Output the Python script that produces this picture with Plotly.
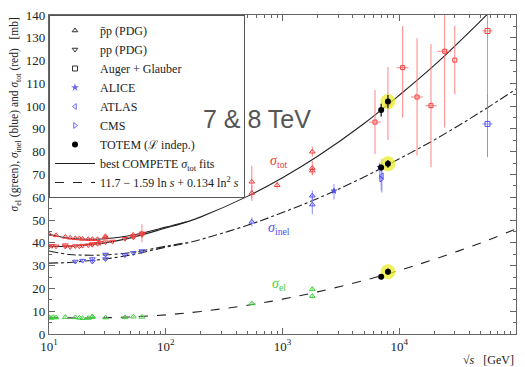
import plotly.graph_objects as go

# ---------------- data ----------------
# p-bar p total cross sections (PDG), sqrt(s) in GeV, sigma in mb
ppbar_tot_x = [10.0, 11.5, 13.8, 15.2, 16.8, 18.2, 19.4, 21.7, 23.5, 26.0, 30.4, 30.4, 52.6, 62.3, 546, 546, 900, 1800, 1800, 1800]
ppbar_tot_y = [43.8, 43.3, 42.6, 42.2, 42.0, 41.9, 41.7, 41.6, 41.6, 41.6, 42.3, 42.9, 43.5, 44.1, 61.9, 66.8, 65.3, 80.0, 72.8, 71.7]
ppbar_tot_e = [0.6, 0.6, 0.6, 0.5, 0.5, 0.5, 0.5, 0.5, 0.5, 0.5, 0.8, 0.8, 0.7, 0.8, 3.5, 7.0, 1.4, 2.2, 3.1, 2.0]

# p p total cross sections (PDG)
pp_tot_x = [10.0, 10.6, 11.5, 13.8, 13.8, 15.2, 16.8, 18.2, 19.4, 21.7, 23.5, 23.5, 26.0, 27.4, 30.5, 35.0, 44.7, 52.8, 52.8, 62.5, 62.5]
pp_tot_y = [38.4, 38.7, 38.5, 38.4, 39.0, 38.2, 38.6, 38.5, 38.8, 39.0, 39.2, 39.5, 39.6, 40.0, 40.3, 40.6, 41.8, 42.4, 43.0, 43.5, 44.2]
pp_tot_e = [0.5, 0.5, 0.5, 0.6, 0.6, 0.6, 0.5, 0.5, 0.5, 0.5, 0.5, 0.5, 0.5, 0.5, 0.5, 0.5, 0.6, 0.7, 0.7, 0.8, 4.0]

# inelastic (PDG)
ppbar_inel_x = [546, 1800, 1800]
ppbar_inel_y = [49.2, 60.7, 56.8]
ppbar_inel_e = [2.0, 2.3, 4.3]
pp_inel_x = [16.8, 19.4, 23.5, 23.5, 30.5, 30.5, 44.7, 52.8, 62.5]
pp_inel_y = [31.8, 32.2, 32.9, 31.8, 32.9, 34.9, 34.6, 35.6, 36.4]
pp_inel_e = [0.4, 0.5, 0.6, 0.6, 0.7, 0.7, 0.4, 0.5, 0.5]

# elastic (PDG)
el_x = [10.0, 10.4, 10.9, 11.5, 13.8, 16.8, 18.2, 19.4, 21.7, 23.5, 23.5, 30.5, 44.7, 52.8, 62.5, 546, 1800, 1800]
el_y = [7.3, 7.0, 7.4, 7.2, 7.4, 7.3, 7.1, 6.9, 7.0, 7.4, 7.7, 7.2, 7.3, 7.6, 7.5, 13.4, 19.7, 16.6]
el_e = [0.4, 0.4, 0.4, 0.3, 0.4, 0.3, 0.3, 0.3, 0.3, 0.3, 0.3, 0.3, 0.2, 0.3, 0.3, 0.6, 0.9, 1.0]

# cosmic-ray total cross sections
cr_x = [6200, 8000, 10700, 14200, 18700, 24500, 29900]
cr_y = [93.0, 101.1, 116.9, 104.0, 100.2, 124.1, 120.2]
cr_ep = [14.0, 16.0, 18.2, 25.8, 27.0, 36.0, 15.0]
cr_em = [14.0, 16.0, 21.9, 25.7, 27.0, 33.5, 15.0]
cr_xp = [750, 600, 1300, 1700, 2250, 3600, 0]
cr_xm = [700, 550, 1200, 1600, 2050, 3200, 0]

# Auger + Glauber (57 TeV)
auger_x = [57000]
auger_tot = [133.0]
auger_tot_ep = [30.0]
auger_tot_em = [27.5]
auger_inel = [92.2]
auger_inel_ep = [13.3]
auger_inel_em = [14.6]
auger_xp = [6000]
auger_xm = [5400]

# LHC inelastic
alice_x = [6800, 2760]
alice_y = [73.2, 62.8]
alice_ep = [2.0, 3.0]
alice_em = [5.0, 3.8]
atlas_x = [7100]
atlas_y = [69.4]
atlas_e = [7.3]
cms_x = [7000]
cms_y = [68.0]
cms_e = [5.0]

# TOTEM
totem_x = [7000, 8000]
totem_tot = [98.3, 102.0]
totem_tot_e = [2.8, 2.9]
totem_inel = [73.1, 74.7]
totem_inel_e = [1.3, 1.7]
totem_el = [25.1, 27.3]
totem_el_e = [1.1, 1.4]

# fitted curves
fit_tot_pp_x = [10, 15, 20, 30, 50, 100, 150, 200, 500, 1000, 2000, 5000, 10000, 20000, 50000, 70000]
fit_tot_pp_y = [38.4, 38.5, 39.0, 40.0, 42.2, 46.5, 49.1, 51.4, 60.4, 68.6, 78.0, 92.4, 104.8, 118.0, 137.5, 145.0]
fit_tot_pbp_x = [10, 15, 20, 30, 50, 100, 150]
fit_tot_pbp_y = [43.8, 42.0, 41.6, 41.8, 43.2, 46.9, 49.3]
fit_inel_pp_x = [10, 15, 20, 30, 50, 100, 150, 200, 500, 1000, 2000, 5000, 10000, 20000, 50000, 100000]
fit_inel_pp_y = [31.1, 31.4, 32.0, 32.9, 34.7, 38.1, 39.9, 41.5, 47.7, 53.3, 59.5, 68.9, 76.9, 85.2, 97.5, 107.5]
fit_inel_pbp_x = [10, 15, 20, 30, 50, 100, 150]
fit_inel_pbp_y = [36.4, 34.9, 34.6, 34.7, 35.7, 38.5, 40.1]
fit_el_x = [10, 20, 30, 50, 100, 200, 500, 1000, 2000, 5000, 10000, 20000, 50000, 100000]
fit_el_y = [7.2, 7.0, 7.1, 7.5, 8.4, 9.9, 12.6, 15.3, 18.5, 23.5, 27.9, 32.8, 40.0, 46.1]

xtick_vals = [10, 100, 1000, 10000, 100000]
xtick_text = ["10<sup>1</sup>", "10<sup>2</sup>", "10<sup>3</sup>", "10<sup>4</sup>", "10<sup>5</sup>"]

# ---------------- style ----------------
RED = "#f03c3c"
RED_E = "rgba(255,110,110,0.85)"
BLUE = "#5050f0"
BLUE_E = "rgba(120,120,255,0.85)"
GREEN = "#40d040"
GREEN_E = "rgba(100,220,100,0.85)"
SERIF = "Liberation Serif, DejaVu Serif, serif"

fig = go.Figure()

def curve(x, y, dash):
    fig.add_trace(go.Scatter(x=x, y=y, mode="lines", line=dict(color="#222", width=1.1, dash=dash, shape="spline"),
                             showlegend=False, hoverinfo="skip"))

curve(fit_tot_pp_x, fit_tot_pp_y, "solid")
curve(fit_tot_pbp_x, fit_tot_pbp_y, "solid")
curve(fit_inel_pp_x, fit_inel_pp_y, "dashdot")
curve(fit_inel_pbp_x, fit_inel_pbp_y, "dashdot")
curve(fit_el_x, fit_el_y, "dash")

def pts(x, y, ep, em, color, ecolor, symbol, size=5, xp=None, xm=None):
    kw = {}
    if xp is not None:
        kw["error_x"] = dict(type="data", symmetric=False, array=xp, arrayminus=xm, color=ecolor, thickness=1, width=0)
    fig.add_trace(go.Scatter(
        x=x, y=y, mode="markers",
        marker=dict(symbol=symbol, size=size, color=color, line=dict(color=color, width=1)),
        error_y=dict(type="data", symmetric=False, array=ep, arrayminus=em, color=ecolor, thickness=1, width=0),
        showlegend=False, **kw))

# PDG data
pts(ppbar_tot_x, ppbar_tot_y, ppbar_tot_e, ppbar_tot_e, RED, RED_E, "triangle-up-open")
pts(pp_tot_x, pp_tot_y, pp_tot_e, pp_tot_e, RED, RED_E, "triangle-down-open")
pts(ppbar_inel_x, ppbar_inel_y, ppbar_inel_e, ppbar_inel_e, BLUE, BLUE_E, "triangle-up-open")
pts(pp_inel_x, pp_inel_y, pp_inel_e, pp_inel_e, BLUE, BLUE_E, "triangle-down-open")
pts(el_x, el_y, el_e, el_e, GREEN, GREEN_E, "triangle-up-open")
# cosmic rays
pts(cr_x, cr_y, cr_ep, cr_em, RED, RED_E, "square-open", 4, cr_xp, cr_xm)
pts(auger_x, auger_tot, auger_tot_ep, auger_tot_em, RED, RED_E, "square-open", 5, auger_xp, auger_xm)
pts(auger_x, auger_inel, auger_inel_ep, auger_inel_em, BLUE, BLUE_E, "square-open", 5, auger_xp, auger_xm)
# LHC
pts(alice_x, alice_y, alice_ep, alice_em, BLUE, BLUE_E, "star", 4)
pts(atlas_x, atlas_y, atlas_e, atlas_e, BLUE, BLUE_E, "triangle-left-open", 5)
pts(cms_x, cms_y, cms_e, cms_e, BLUE, BLUE_E, "triangle-right-open", 5)

# TOTEM highlights at 8 TeV
fig.add_trace(go.Scatter(x=[totem_x[1]] * 3, y=[totem_tot[1], totem_inel[1], totem_el[1]], mode="markers",
                         marker=dict(size=15, color="rgba(235,235,40,0.75)"), showlegend=False, hoverinfo="skip"))
for yv, ev in ((totem_tot, totem_tot_e), (totem_inel, totem_inel_e), (totem_el, totem_el_e)):
    fig.add_trace(go.Scatter(x=totem_x, y=yv, mode="markers",
                             marker=dict(symbol="circle", size=6, color="black"),
                             error_y=dict(type="data", array=ev, color="#333", thickness=1.5, width=0),
                             showlegend=False))

# legend entries
def leg(name, **kw):
    fig.add_trace(go.Scatter(x=[None], y=[None], name=name, **kw))

leg("p\u0304p (PDG)", mode="markers", marker=dict(symbol="triangle-up-open", size=5, color="#333"))
leg("pp (PDG)", mode="markers", marker=dict(symbol="triangle-down-open", size=5, color="#333"))
leg("Auger + Glauber", mode="markers", marker=dict(symbol="square-open", size=5, color="#333"))
leg("ALICE", mode="markers", marker=dict(symbol="star", size=6, color="#6a6af0"))
leg("ATLAS", mode="markers", marker=dict(symbol="triangle-left-open", size=5, color="#6a6af0"))
leg("CMS", mode="markers", marker=dict(symbol="triangle-right-open", size=5, color="#6a6af0"))
leg("TOTEM (\u2112 indep.)", mode="markers", marker=dict(symbol="circle", size=6, color="black"))
leg("best COMPETE <i>σ</i><sub>tot</sub> fits", mode="lines", line=dict(color="#222", width=1.1))
leg("11.7 − 1.59 ln <i>s</i> + 0.134 ln<sup>2</sup> <i>s</i>", mode="lines", line=dict(color="#222", width=1.1, dash="dash"))

axis_common = dict(showline=True, linecolor="#666", linewidth=1.2, mirror="ticks", ticks="inside",
                   ticklen=6, tickcolor="#666", showgrid=False, zeroline=False,
                   tickfont=dict(family=SERIF, size=13, color="#222"))

fig.update_xaxes(type="log", range=[1, 5], tickmode="array", tickvals=xtick_vals, ticktext=xtick_text,
                 minor=dict(ticks="inside", ticklen=3, tickcolor="#666",
                            tickvals=[m * d for d in (10, 100, 1000, 10000) for m in range(2, 10)]),
                 **axis_common)
fig.update_yaxes(range=[0, 140], dtick=10, minor=dict(ticks="inside", ticklen=3, dtick=5, tickcolor="#666"),
                 **axis_common)

annots = [
    dict(x=2.97, y=75.5, text="<i>σ</i><sub>tot</sub>", font=dict(color=RED, size=14)),
    dict(x=2.97, y=46.5, text="<i>σ</i><sub>inel</sub>", font=dict(color=BLUE, size=14)),
    dict(x=2.97, y=21.7, text="<i>σ</i><sub>el</sub>", font=dict(color=GREEN, size=14)),
]
for a in annots:
    fig.add_annotation(xref="x", yref="y", showarrow=False, font_family=SERIF, **{k: v for k, v in a.items()})

fig.add_annotation(xref="x", yref="y", x=2.778, y=94.2, text="7 &amp; 8 TeV", showarrow=False,
                   font=dict(family="Liberation Sans, Arial, sans-serif", size=25, color="#555"))
fig.add_annotation(xref="paper", yref="paper", x=-0.072, y=1.0, xanchor="center", yanchor="top",
                   textangle=-90, showarrow=False,
                   text="<i>σ</i><sub>el</sub> (green), <i>σ</i><sub>inel</sub> (blue) and <i>σ</i><sub>tot</sub> (red)   [mb]",
                   font=dict(family=SERIF, size=11.5, color="#222"))
fig.add_annotation(xref="paper", yref="paper", x=1.0, y=-0.08, xanchor="right", yanchor="middle",
                   showarrow=False, text="√<i>s</i>   [GeV]", font=dict(family=SERIF, size=12, color="#222"))

fig.update_layout(
    width=525, height=367,
    margin=dict(l=49, r=8, t=8, b=33),
    paper_bgcolor="white", plot_bgcolor="white",
    font=dict(family=SERIF, size=12, color="#222"),
    legend=dict(x=0, y=1, xanchor="left", yanchor="top", bgcolor="white", bordercolor="#555", borderwidth=1,
                font=dict(family=SERIF, size=12, color="#222"), tracegroupgap=0, itemwidth=40),
)

fig.write_html("out.html", config={"displayModeBar": False},
               post_script="document.body.style.margin='0px';document.body.style.padding='0px';")
